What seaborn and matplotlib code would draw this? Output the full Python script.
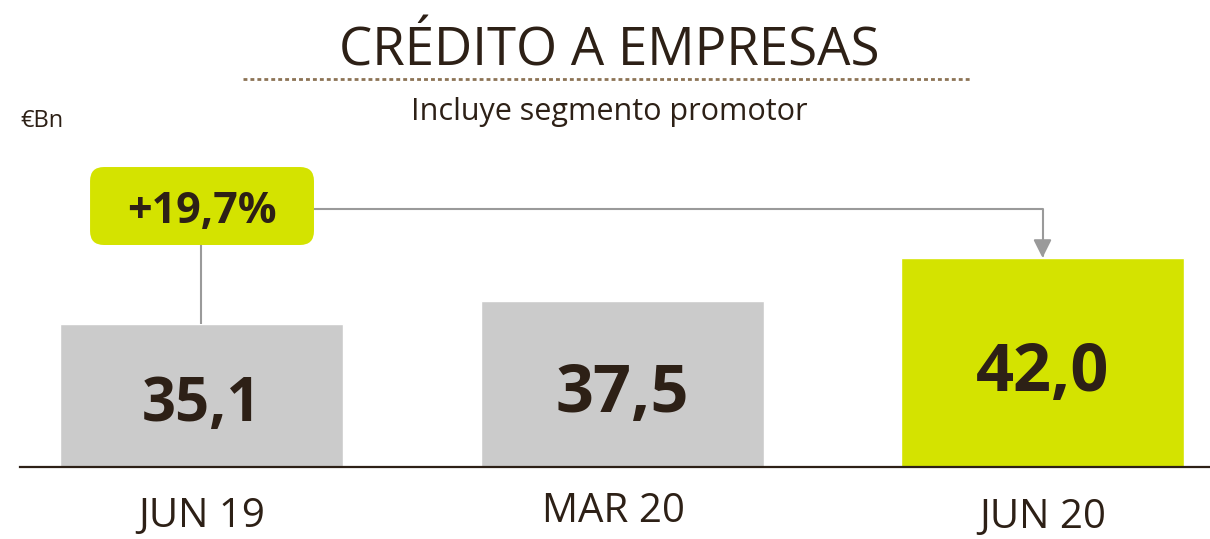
import matplotlib
matplotlib.use('Agg')
import matplotlib.pyplot as plt
import matplotlib.font_manager as fm
from matplotlib.patches import FancyBboxPatch
from matplotlib.lines import Line2D
import matplotlib.transforms as mtransforms
import seaborn as sns
import pandas as pd

# data
periods = ['JUN 19', 'MAR 20', 'JUN 20']
credit = [35.1, 37.5, 42.0]
bar_colors = ['#cbcbcb', '#cbcbcb', '#d4e300']
value_sizes = [43, 48, 48]

TEXT = '#2d2016'
GREY_LINE = '#9a9a9a'
LIME = '#d4e300'


def weight_of(f):
    w = f.weight
    if isinstance(w, str):
        w = fm.weight_dict.get(w, 400)
    return w


def has_font(name, weight):
    return any(f.name == name and weight_of(f) >= weight for f in fm.fontManager.ttflist)


def pick(weight):
    for fam in ['Open Sans', 'Noto Sans', 'Roboto', 'DejaVu Sans']:
        if has_font(fam, weight):
            return fam
    return 'DejaVu Sans'


sns.set_style('white')
FAM = pick(400)
FAM_BOLD = pick(700)
plt.rcParams['font.family'] = [FAM, 'DejaVu Sans']

df = pd.DataFrame({'period': periods, 'credit': credit})

fig = plt.figure(figsize=(12.1, 5.39), dpi=100)
ax = fig.add_axes([20 / 1210, 72 / 539, 1190 / 1210, 317 / 539])

sns.barplot(data=df, x='period', y='credit', hue='period', palette=bar_colors,
            legend=False, width=0.673, saturation=1, ax=ax, zorder=1)

y0 = 20.03
ax.set_ylim(y0, y0 + 317 / 9.52)
ax.set_xlim(-0.4316, 2.3983)

for s in ['top', 'right', 'left']:
    ax.spines[s].set_visible(False)
ax.spines['bottom'].set_color(TEXT)
ax.spines['bottom'].set_linewidth(1.6)
ax.spines['bottom'].set_zorder(5)
ax.set_xticks([])
ax.set_yticks([])
ax.set_xlabel('')
ax.set_ylabel('')

# values inside the bars
for i, (v, fs) in enumerate(zip(credit, value_sizes)):
    mid = (y0 + v) / 2
    ax.annotate(f'{v:.1f}'.replace('.', ','), xy=(i, mid), xytext=(0, -(0.357 * fs + 3.2)),
                textcoords='offset points', ha='center', va='baseline',
                fontsize=fs, fontweight='bold', family=FAM_BOLD, color=TEXT, zorder=6)

# period labels under the axis
trans = mtransforms.blended_transform_factory(ax.transData, ax.transAxes)
label_off = [(0, -43.2), (-6, -39.6), (0, -44.0)]
for i, lab in enumerate(periods):
    ax.annotate(lab, xy=(i, 0), xycoords=trans, xytext=label_off[i],
                textcoords='offset points', ha='center', va='baseline',
                fontsize=29, color=TEXT, annotation_clip=False)

# growth box and connectors
growth = (credit[2] / credit[0] - 1) * 100
box_x0, box_w = -0.265, 0.5325
box_y0, box_h = 43.35, 8.19
box = FancyBboxPatch((box_x0, box_y0), box_w, box_h,
                     boxstyle='round,pad=0,rounding_size=0.033',
                     mutation_aspect=44.2, fc=LIME, ec='none', zorder=4, clip_on=False)
ax.add_patch(box)
ax.text(0, box_y0 + box_h / 2, f'+{growth:.1f}%'.replace('.', ','), ha='center', va='center_baseline',
        fontsize=31, fontweight='bold', family=FAM_BOLD, color=TEXT, zorder=6)

ax.plot([0, 0], [credit[0], box_y0], color=GREY_LINE, lw=1.5, zorder=3, solid_capstyle='butt')
ax.annotate('', xy=(2, credit[2]), xytext=(box_x0 + box_w, 47.1),
            arrowprops=dict(arrowstyle='-|>,head_length=1.1,head_width=0.55',
                            connectionstyle='angle,angleA=0,angleB=90,rad=0',
                            color=GREY_LINE, lw=1.5, shrinkA=0, shrinkB=0,
                            mutation_scale=10), zorder=3, annotation_clip=False)

# header
fig.text(609 / 1210, 1 - 65 / 539, 'CRÉDITO A EMPRESAS', ha='center', va='baseline',
         fontsize=38, color=TEXT)
fig.add_artist(Line2D([243 / 1210, 972 / 1210], [1 - 79 / 539, 1 - 79 / 539],
                      transform=fig.transFigure, color='#8c7355', lw=2,
                      linestyle=(0, (1.4, 1.1))))
fig.text(609 / 1210, 1 - 120 / 539, 'Incluye segmento promotor', ha='center', va='baseline',
         fontsize=22, color=TEXT)
fig.text(20 / 1210, 1 - 127 / 539, '€Bn', ha='left', va='baseline', fontsize=17, color=TEXT)

fig.savefig('out.png', dpi=100)
